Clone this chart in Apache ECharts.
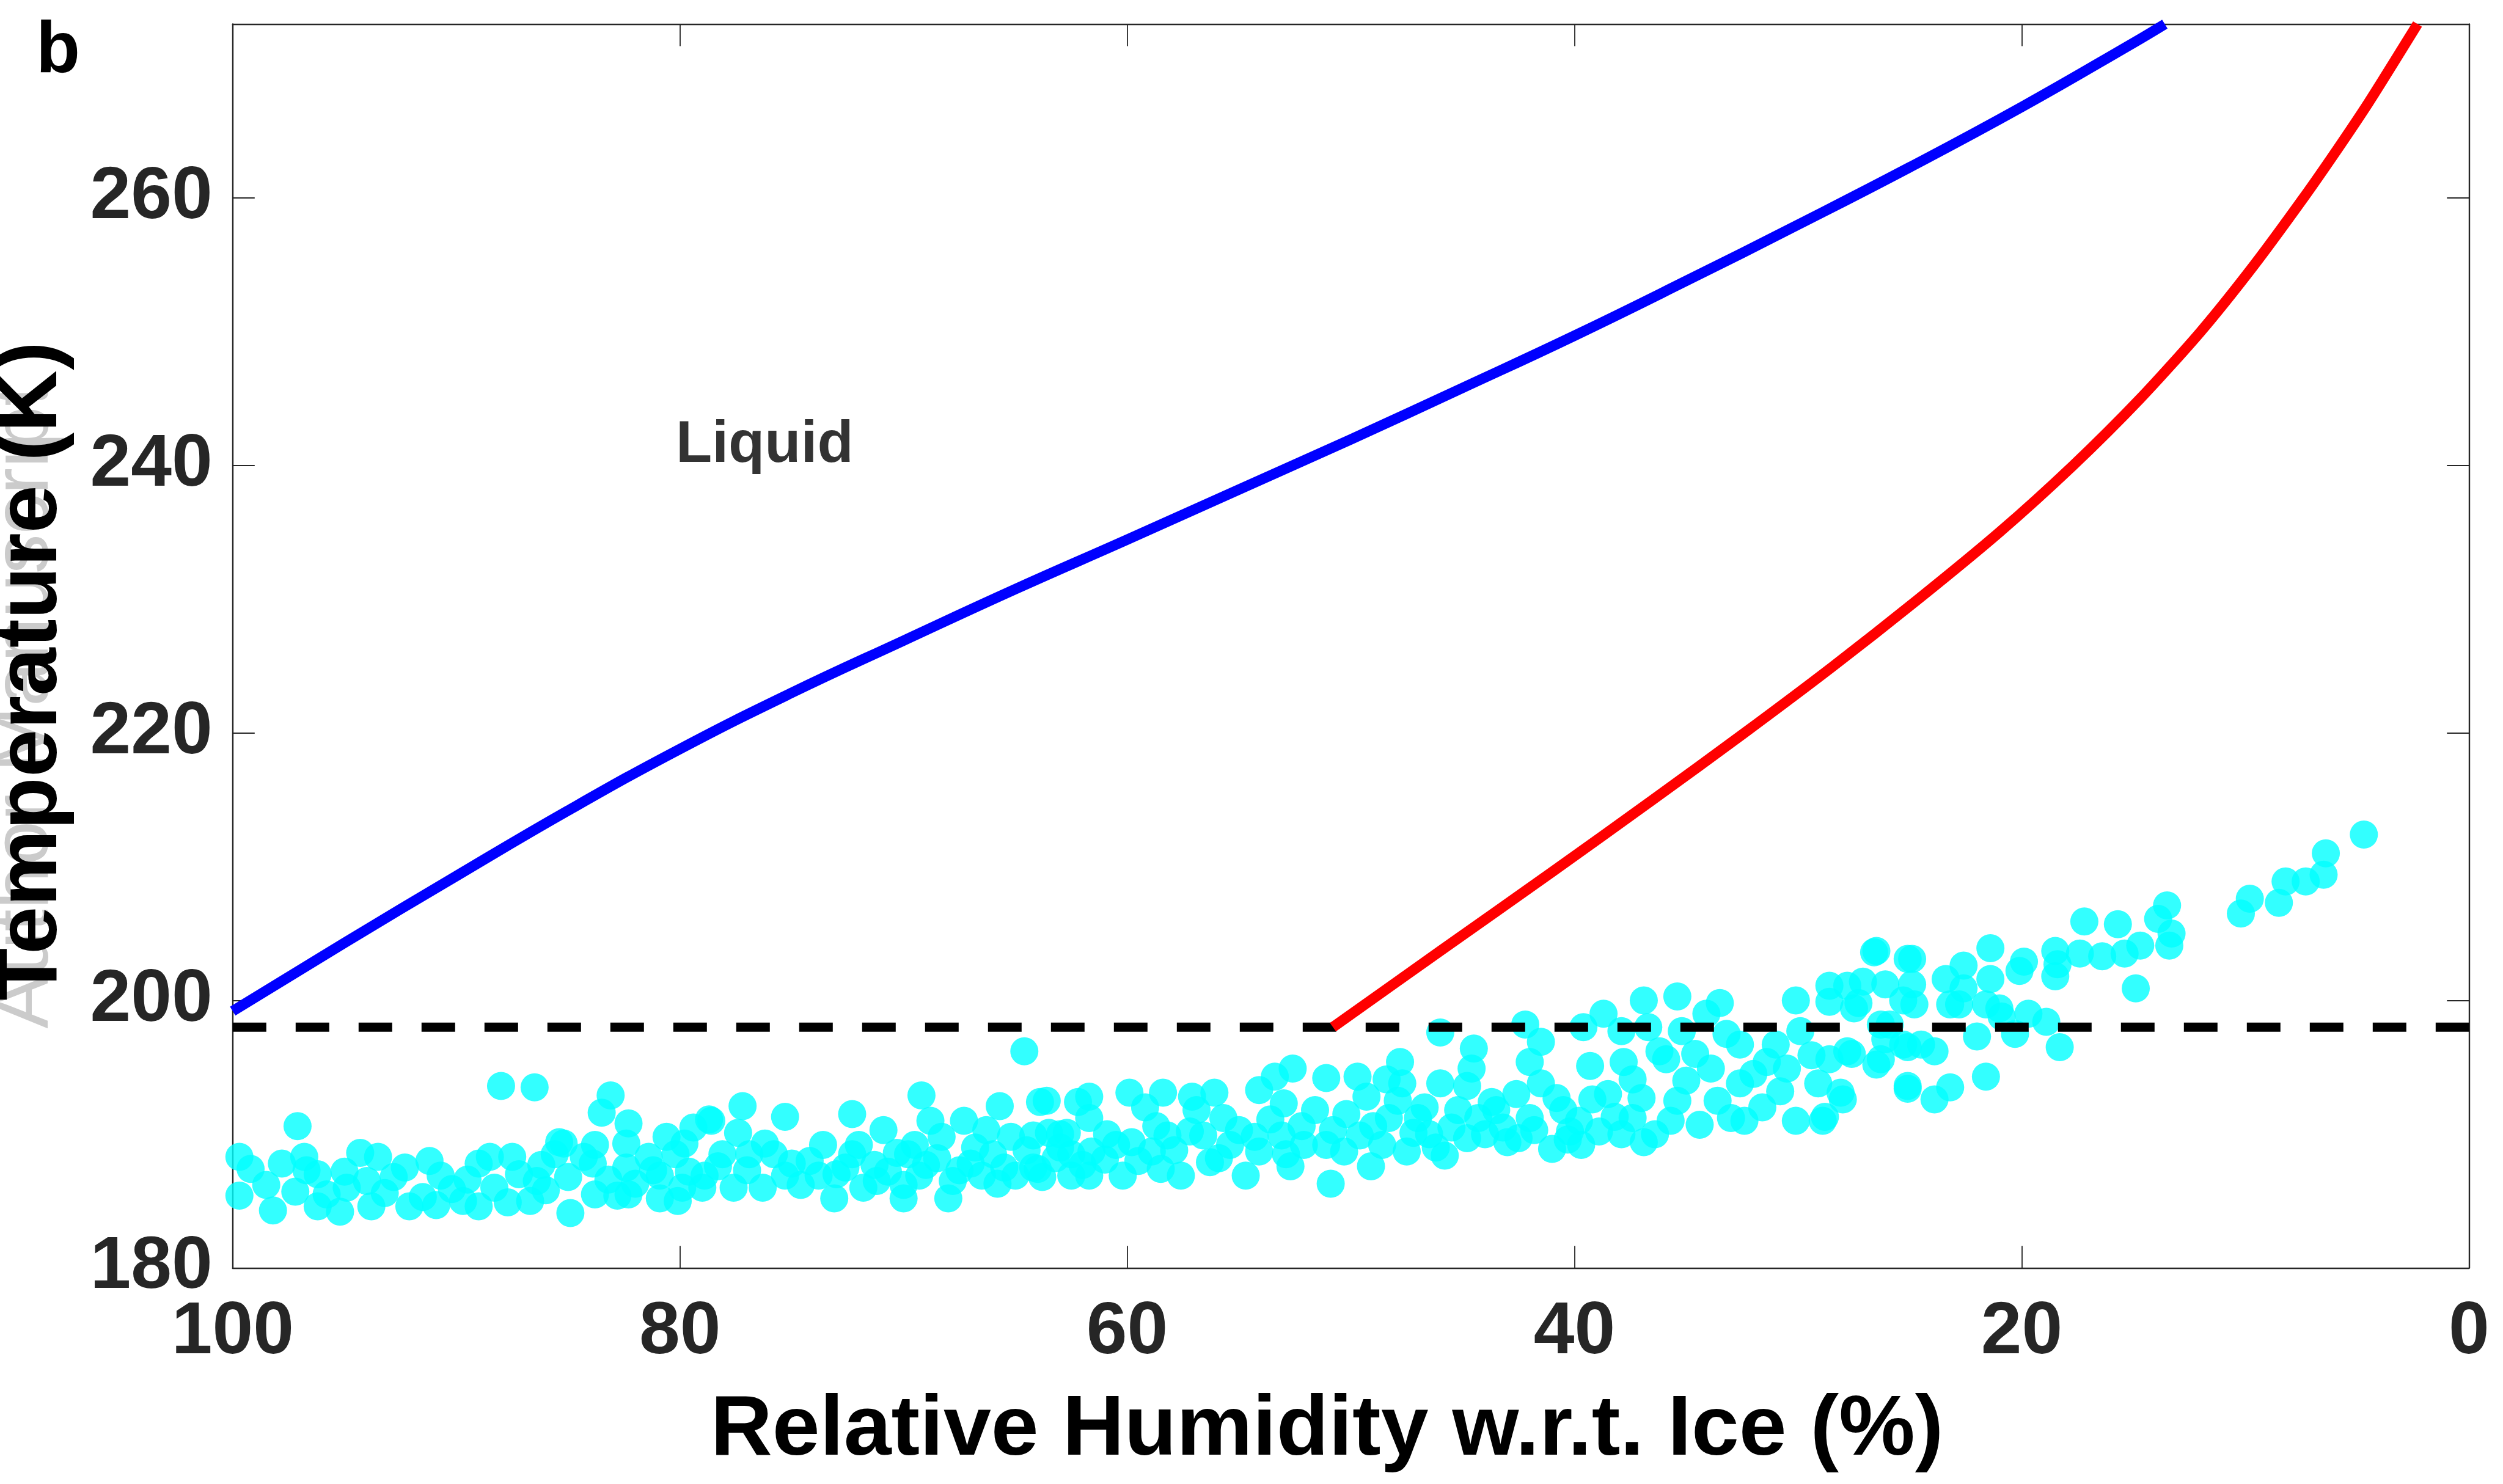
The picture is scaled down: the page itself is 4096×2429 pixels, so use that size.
<!DOCTYPE html>
<html><head><meta charset="utf-8">
<script src="https://cdn.jsdelivr.net/npm/echarts@6/dist/echarts.min.js"></script>
<style>html,body{margin:0;padding:0;background:#fff}#c{width:4096px;height:2429px}</style>
</head><body><div id="c"></div><script>
// ---- data ----
const xTicks = [0, 20, 40, 60, 80, 100];
const yTicks = [180, 200, 220, 240, 260];
const blueRH = [100, 95, 90, 85, 80, 75, 70, 65, 60, 55, 50, 45, 40, 35, 30, 25, 20, 15, 13.6];
const blueT  = [199.2, 204.3, 209.3, 214.2, 218.8, 223.0, 226.9, 230.75, 234.45, 238.2, 241.95, 245.8, 249.7, 253.8, 258.0, 262.3, 266.8, 271.6, 273.0];
const redRH = [50.8, 46.0, 41.0, 36.5, 32.4, 28.5, 24.7, 21.0, 17.7, 14.7, 12.0, 9.6, 7.4, 5.9, 4.5, 3.3, 2.3];
const redT  = [198.0, 203.7, 209.6, 215.0, 220.0, 224.9, 229.9, 235.0, 240.0, 245.0, 250.0, 255.0, 260.0, 263.6, 267.1, 270.3, 273.0];
const thresholdRH = [100, 0];
const thresholdT = [198, 198];
const liquidText = 'Liquid';
const liquidAt = [80.2, 241.5];
const obsPoints = [
[88.0,193.6],[86.5,193.5],[97.1,190.6],[83.1,192.9],[83.5,191.6],[77.2,192.1],[75.3,191.3],[64.6,196.2],[69.2,192.9],[65.7,192.1],
[63.9,192.4],[72.3,191.5],[82.3,190.8],[78.7,191.1],[80.6,189.8],[85.4,189.4],[99.7,188.3],[99.2,187.4],[99.7,185.4],[96.8,188.3],
[96.7,187.3],[96.2,187.0],[98.2,184.3],[97.2,185.7],[96.2,184.6],[95.2,184.2],[94.3,188.6],[93.5,188.3],[94.0,186.5],[93.8,184.6],
[94.9,186.0],[92.3,187.5],[92.1,184.6],[90.7,186.9],[90.9,184.7],[89.7,185.0],[89.0,187.8],[88.5,188.3],[87.5,188.3],[89.0,184.6],
[87.7,184.9],[86.7,185.0],[86.4,186.5],[85.6,188.5],[85.2,189.3],[86.2,187.7],[84.9,184.1],[83.8,189.2],[83.9,187.8],[83.8,185.5],
[82.8,185.4],[82.3,185.5],[82.4,189.3],[82.4,187.5],[81.4,188.3],[80.9,185.2],[80.1,185.0],[79.6,187.2],[79.4,190.5],[78.6,191.0],
[78.1,188.5],[77.4,190.1],[76.9,188.5],[77.6,186.0],[75.8,188.5],[75.3,186.9],[74.6,186.2],[73.6,189.2],[73.1,185.2],[72.6,187.5],
[72.3,188.5],[71.3,187.7],[70.9,190.3],[70.7,187.2],[69.8,188.5],[69.5,189.2],[69.3,186.9],[68.8,191.0],[69.0,187.7],[67.8,186.5],
[67.3,191.0],[67.0,187.8],[66.3,190.3],[66.0,188.5],[65.5,187.5],[64.2,187.5],[63.5,190.1],[62.5,188.5],[62.5,186.9],[62.2,192.4],
[80.9,186.9],[79.9,186.0],[78.9,186.9],[76.3,186.0],[73.8,186.9],[71.8,186.0],[70.0,185.2],[68.0,185.2],[66.5,186.9],[65.0,186.9],
[63.2,188.2],[62.7,190.1],
[98.5,186.2],[97.8,187.8],[95.8,185.5],[95.0,187.2],[93.2,185.6],[92.8,186.8],[91.5,185.3],[91.2,188.0],[90.2,185.9],[89.5,186.6],
[88.3,186.0],[87.2,187.0],[86.0,185.8],[85.0,186.8],[84.3,188.3],[83.2,186.6],[82.0,186.3],[81.2,187.3],[80.2,188.5],[79.8,189.3],
[79.0,186.0],[78.3,187.6],[77.0,187.3],[76.2,189.3],[75.0,187.8],[74.2,188.0],[73.0,187.0],[72.0,189.2],[71.2,186.5],[70.3,188.6],[70.0,186.2],
[68.5,188.2],[68.3,189.8],[67.5,187.3],[66.8,189.0],[65.8,186.3],[65.2,189.8],[64.5,188.8],[63.8,186.8],[63.0,189.0],[62.0,187.7],[61.0,188.1],[60.5,189.2],
[59.5,188.0],[58.7,190.6],[57.9,188.8],[57.2,190.2],[56.3,187.9],[55.7,191.2],[55.0,190.3],[54.3,189.8],[53.6,191.1],[52.9,188.5],[52.2,190.6],[51.6,191.8],[50.8,190.3],[50.2,191.5],
[49.0,190.6],[48.6,189.2],[47.9,192.5],[47.2,190.1],[46.7,192.0],[46.2,189.0],[45.2,191.8],[44.0,190.0],[43.7,192.4],[43.0,189.4],[42.6,193.0],[41.8,190.3],[40.8,192.7],[40.3,189.6],
[39.8,191.0],[38.5,193.0],[38.2,191.3],[37.0,192.7],[36.2,196.2],[35.0,194.0],[34.6,196.0],[33.2,197.5],[33.0,191.2],[32.0,194.5],[31.0,196.7],[30.8,193.2],
[63.6,192.5],[64.2,189.9],[64.0,187.4],[61.7,192.8],[61.7,191.2],[61.7,186.9],[61.6,188.7],[60.2,186.9],[59.9,193.1],[59.8,189.4],
[59.2,192.0],[58.4,193.1],[58.5,187.4],[58.2,189.9],[57.6,186.9],[57.1,192.8],[56.9,191.8],[56.1,193.1],[56.6,189.9],[55.4,189.2],
[54.7,186.9],[54.1,193.3],[53.4,194.3],[52.6,194.9],[53.0,192.3],[53.1,189.9],[52.7,187.6],[51.1,194.2],[50.9,186.3],[51.1,189.2],
[49.7,194.3],[49.3,192.8],[49.1,187.6],[49.6,189.9],[48.4,194.1],[47.8,195.4],[47.7,193.8],[48.3,191.2],[47.0,191.2],[47.5,188.7],
[46.0,193.8],[46.0,197.6],[45.8,188.4],[45.5,190.5],[44.5,196.4],[44.6,194.9],[44.8,193.6],[44.3,191.2],[44.8,189.7],[43.2,190.5],
[42.5,189.7],[42.2,198.2],[42.0,195.4],[41.5,193.8],[41.5,196.9],[42.0,191.2],[41.0,188.9],[40.2,190.2],[39.6,198.0],[39.3,195.1],
[39.2,192.6],[38.9,190.2],[38.7,199.0],[37.9,197.7],[37.8,195.4],[37.4,194.1],[36.9,200.0],[36.7,198.0],[37.4,191.2],[36.9,189.4],
[35.4,200.3],[35.7,191.0],[35.4,192.5],[35.9,195.6],[35.2,197.7],[34.1,199.0],[33.5,199.8],[33.9,194.9],[33.6,192.5],[32.6,196.7],
[32.6,193.8],[32.4,191.0],[31.4,195.4],[31.6,192.0],[30.5,194.9],[30.1,200.0],[29.9,197.7],[30.1,191.0],[29.4,195.9],[28.9,191.0],
[29.1,193.8],[28.6,201.1],[28.1,193.1],[27.8,196.2],[27.3,199.8],[26.6,203.6],[26.3,198.2],[26.3,195.6],[25.3,200.0],[25.1,193.6],
[25.1,203.1],[25.3,196.7],
[63.0,190.0],[60.9,190.0],[58.9,188.7],[55.9,188.2],[54.1,188.7],[52.1,189.2],[50.3,188.7],[46.5,190.0],[43.5,191.8],[40.5,191.8],
[36.4,190.0],[34.4,190.7],[37.9,190.0],[39.7,189.2],
[4.7,212.4],[6.4,211.0],[6.5,209.4],[7.3,208.9],[8.2,208.9],[8.5,207.3],[9.8,207.6],[10.2,206.5],[13.5,207.1],[13.4,204.1],
[13.3,205.0],[13.9,206.1],[14.9,200.9],[14.7,204.1],[15.7,205.7],[16.4,203.3],[15.4,203.5],[17.2,205.9],[17.4,203.5],[18.4,202.7],
[18.5,203.7],[18.5,201.8],[19.9,202.9],[20.1,202.2],[21.4,203.9],[21.4,201.6],[21.6,199.7],[21.0,199.4],[22.6,202.6],[22.6,200.9],
[22.8,199.7],[23.4,201.6],[23.2,199.7],[24.9,203.1],[24.9,201.2],[24.8,199.7],[26.5,203.7],[26.1,201.2],[25.9,198.2],[27.1,201.4],
[27.8,201.1],[28.6,199.9],[27.5,199.4],[19.7,199.0],[18.9,198.4],[18.3,196.5],[20.3,197.5],[22.0,197.3],[21.6,194.3],[20.9,198.8],
[23.9,196.2],[24.5,196.7],[25.1,196.5],[23.2,193.5],[23.9,192.6],[25.1,193.4],[26.5,195.2],[27.6,196.0],[26.1,197.1],[28.6,195.6],
[28.0,192.6],[28.8,191.3]
];

// ---- chart ----
const F = "'Liberation Sans', Arial, Helvetica, sans-serif";
const AX = '#262626';
const zip = (a, b) => a.map((v, i) => [v, b[i]]);
const chart = echarts.init(document.getElementById('c'), null, {renderer: 'canvas'});

const boxLine = {show: true, onZero: false, lineStyle: {color: AX, width: 2.4}};
const boxTick = {show: true, inside: true, length: 36, lineStyle: {color: AX, width: 1.8}};

chart.setOption({
  animation: false,
  backgroundColor: '#ffffff',
  grid: {left: 380.8, right: 55.7, top: 39.4, bottom: 353.7, containLabel: false, outerBoundsMode: 'none'},
  xAxis: [
    {type: 'value', position: 'bottom', min: xTicks[0], max: xTicks[xTicks.length - 1], interval: 20, inverse: true,
     axisLine: boxLine, axisTick: boxTick, splitLine: {show: false},
     axisLabel: {margin: 47, fontSize: 120, lineHeight: 120, fontWeight: 'bold', fontFamily: F, color: AX},
     name: 'Relative Humidity w.r.t. Ice (%)', nameLocation: 'middle', nameGap: 197, nameMoveOverlap: false,
     nameTextStyle: {fontSize: 140, lineHeight: 140, fontWeight: 'bold', fontFamily: F, color: '#000', padding: [0, 78, 0, 0]}},
    {type: 'value', position: 'top', min: xTicks[0], max: xTicks[xTicks.length - 1], interval: 20, inverse: true,
     axisLine: boxLine, axisTick: boxTick, axisLabel: {show: false}, splitLine: {show: false}}
  ],
  yAxis: [
    {type: 'value', position: 'left', min: yTicks[0], max: 273, interval: 20,
     axisLine: boxLine, axisTick: boxTick, splitLine: {show: false},
     axisLabel: {margin: 33, fontSize: 120, lineHeight: 120, fontWeight: 'bold', fontFamily: F, color: AX,
                 formatter: v => (yTicks.indexOf(v) >= 0 ? String(v) : '')},
     name: 'Temperature (K)', nameLocation: 'middle', nameRotate: 90, nameGap: 257, nameMoveOverlap: false,
     nameTextStyle: {fontSize: 141, lineHeight: 141, fontWeight: 'bold', fontFamily: F, color: '#000', padding: [0, 82, 0, 0]}},
    {type: 'value', position: 'right', min: yTicks[0], max: 273, interval: 20,
     axisLine: boxLine, axisTick: boxTick, axisLabel: {show: false}, splitLine: {show: false}}
  ],
  graphic: [
    {type: 'text', x: 42, y: 1156, rotation: Math.PI / 2, z: -5,
     style: {text: 'Author Manuscript', font: "130px 'Liberation Sans'", fill: '#cbcbcb',
             align: 'center', verticalAlign: 'middle', textAlign: 'center', textVerticalAlign: 'middle'}},
    {type: 'text', x: 59, y: 85,
     style: {text: 'b', font: "bold 118px 'Liberation Sans'", fill: '#000',
             align: 'left', verticalAlign: 'middle', textAlign: 'left', textVerticalAlign: 'middle'}}
  ],
  series: [
    {type: 'scatter', xAxisIndex: 0, yAxisIndex: 0, data: obsPoints, symbol: 'circle', symbolSize: 46,
     itemStyle: {color: '#00ffff'}, z: 2, silent: true},
    {type: 'line', xAxisIndex: 0, yAxisIndex: 0, data: zip(thresholdRH, thresholdT), symbol: 'none',
     lineStyle: {color: '#000000', width: 15, type: [55, 48], cap: 'butt'}, z: 3, silent: true},
    {type: 'line', xAxisIndex: 0, yAxisIndex: 0, data: zip(blueRH, blueT), symbol: 'none', smooth: 0.45, clip: false,
     lineStyle: {color: '#0000ff', width: 17, cap: 'butt', join: 'round'}, z: 4, silent: true},
    {type: 'line', xAxisIndex: 0, yAxisIndex: 0, data: zip(redRH, redT), symbol: 'none', smooth: 0.25, clip: false,
     lineStyle: {color: '#ff0000', width: 17, cap: 'butt', join: 'round'}, z: 4, silent: true},
    {type: 'scatter', xAxisIndex: 0, yAxisIndex: 0, data: [liquidAt], symbolSize: 1,
     itemStyle: {color: 'rgba(0,0,0,0)'}, z: 5, silent: true,
     label: {show: true, position: 'right', distance: 0, formatter: liquidText,
             fontSize: 97, fontWeight: 'bold', fontFamily: F, color: '#000'}}
  ]
});
</script></body></html>
